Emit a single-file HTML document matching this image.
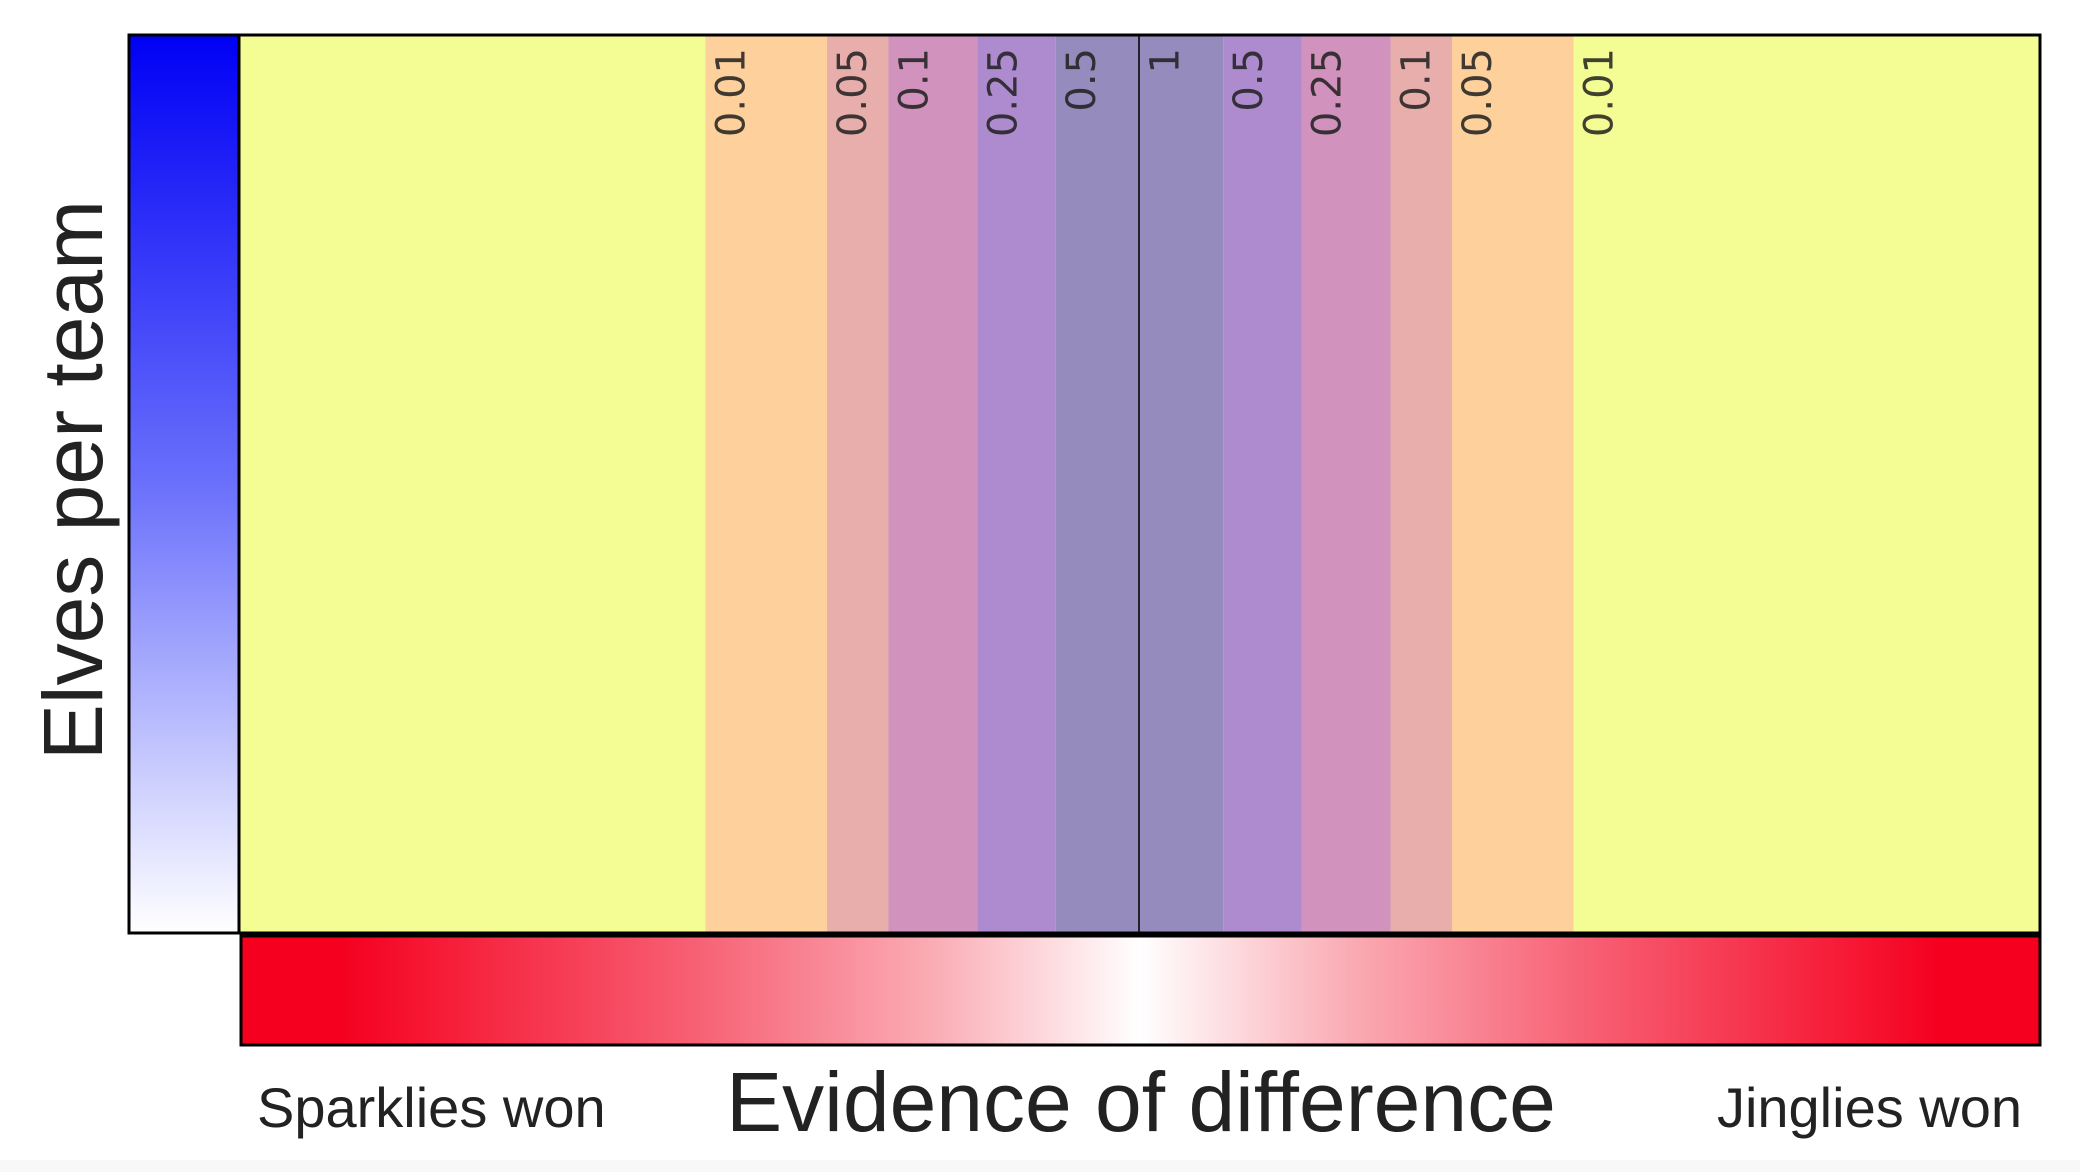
<!DOCTYPE html>
<html><head><meta charset="utf-8"><style>
html,body{margin:0;padding:0;background:#fff;width:2080px;height:1172px;overflow:hidden}
</style></head><body>
<svg width="2080" height="1172" xmlns="http://www.w3.org/2000/svg">
<defs>
<linearGradient id="blueGrad" x1="0" y1="0" x2="0" y2="1">
<stop offset="0" stop-color="#0000f5"/><stop offset="0.5" stop-color="#6a70fb"/><stop offset="1" stop-color="#ffffff"/>
</linearGradient>
<linearGradient id="redGrad" x1="0" y1="0" x2="1" y2="0">
<stop offset="0" stop-color="#f5001f"/><stop offset="0.055" stop-color="#f5001f"/>
<stop offset="0.25" stop-color="#f75f73"/><stop offset="0.38" stop-color="#faa9b2"/>
<stop offset="0.5" stop-color="#ffffff"/>
<stop offset="0.62" stop-color="#faa9b2"/><stop offset="0.75" stop-color="#f75f73"/>
<stop offset="0.945" stop-color="#f5001f"/><stop offset="1" stop-color="#f5001f"/>
</linearGradient>
</defs>
<rect x="0" y="1160" width="2080" height="12" fill="#f8f8f8"/>
<rect x="129" y="35" width="110" height="898" fill="url(#blueGrad)" stroke="#000" stroke-width="3"/>
<rect x="239" y="35" width="1801" height="898" fill="#f3fd93"/>
<g id="bands"></g>
<g id="labels"></g>
<line id="centerline" x1="1139" y1="35" x2="1139" y2="933" stroke="#000" stroke-width="1.5"/>
<rect x="239" y="35" width="1801" height="898" fill="none" stroke="#000" stroke-width="3"/>
<rect x="241" y="936" width="1799" height="109" fill="url(#redGrad)" stroke="#000" stroke-width="3"/>
<text x="0" y="0" transform="translate(102,480) rotate(-90)" text-anchor="middle" font-family="Liberation Sans, sans-serif" font-size="84" fill="#222">Elves per team</text>
<text x="1141" y="1131" text-anchor="middle" font-family="Liberation Sans, sans-serif" font-size="84" fill="#222">Evidence of difference</text>
<text x="257" y="1127" font-family="Liberation Sans, sans-serif" font-size="56" fill="#222">Sparklies won</text>
<text x="2022" y="1127" text-anchor="end" font-family="Liberation Sans, sans-serif" font-size="56" fill="#222">Jinglies won</text>
</svg>
<script>
// threshold p-values (left to right, outer to inner) and boundary positions in evidence units (-1..1)
const thresholds = ["0.01","0.05","0.1","0.25","0.5"];
const boundaries = [0.482, 0.347, 0.279, 0.180, 0.093];
const bandColors = ["#fdd09c","#e8aeab","#d193bd","#ae8bcf","#958bbd"];
const plotX0 = 239, plotX1 = 2040, plotY0 = 35, plotY1 = 933;
const cx = (plotX0 + plotX1) / 2;
function xScale(v){ return cx + v * (plotX1 - plotX0) / 2; }
const NS = "http://www.w3.org/2000/svg";
const bands = document.getElementById('bands');
const labels = document.getElementById('labels');
for (let i = 0; i < boundaries.length; i++) {
  const outer = boundaries[i];
  const inner = i + 1 < boundaries.length ? boundaries[i + 1] : 0;
  [[-outer, -inner], [inner, outer]].forEach(function(pair, side){
    const r = document.createElementNS(NS, 'rect');
    r.setAttribute('x', xScale(pair[0]));
    r.setAttribute('y', plotY0);
    r.setAttribute('width', xScale(pair[1]) - xScale(pair[0]));
    r.setAttribute('height', plotY1 - plotY0);
    r.setAttribute('fill', bandColors[i]);
    
    
    bands.appendChild(r);
  });
}
function addLabel(x, txt, name){
  const t = document.createElementNS(NS, 'text');
  t.setAttribute('transform', 'translate(' + (x + 39) + ',48) rotate(-90)');
  t.setAttribute('text-anchor', 'end');
  t.setAttribute('font-family', 'DejaVu Sans, Liberation Sans, sans-serif');
  t.setAttribute('font-size', '40');
  t.setAttribute('fill', 'rgba(30,30,30,0.85)');
  t.textContent = txt;
  
  
  labels.appendChild(t);
}
for (let i = 0; i < boundaries.length; i++) {
  addLabel(xScale(-boundaries[i]), thresholds[i], 'label-left-' + thresholds[i]);
  addLabel(xScale(boundaries[i]), thresholds[i], 'label-right-' + thresholds[i]);
}
addLabel(xScale(0), "1", 'label-center-1');
</script>
</body></html>
